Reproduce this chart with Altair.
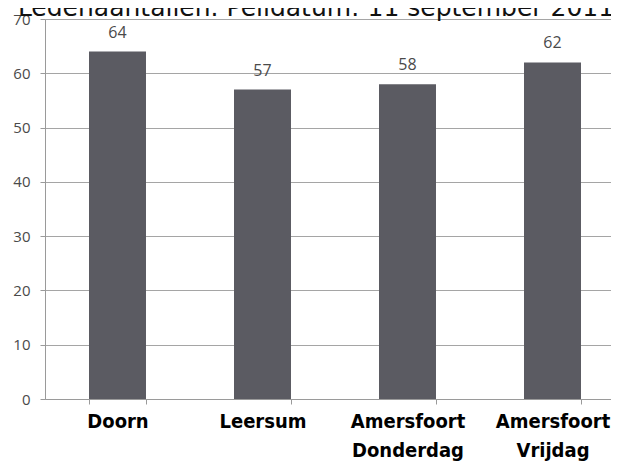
import altair as alt
import pandas as pd

categories = ["Doorn", "Leersum", "Amersfoort\nDonderdag", "Amersfoort\nVrijdag"]
values = [64, 57, 58, 62]
title_text = "Ledenaantallen. Peildatum: 11 september 2011"
y_ticks = [0, 10, 20, 30, 40, 50, 60, 70]

df = pd.DataFrame({"cat": categories, "val": values})

x_enc = alt.X(
    "cat:N",
    sort=categories,
    title=None,
    scale=alt.Scale(range=[0, 580], paddingInner=0.607, paddingOuter=0.3035),
    axis=alt.Axis(
        labelExpr="split(datum.label, '\\n')",
        labelAngle=0,
        labelFont="Liberation Sans Narrow, DejaVu Sans Condensed, Liberation Sans, sans-serif",
        labelFontWeight="bold",
        labelFontSize=20,
        labelColor="#000000",
        labelLineHeight=29,
        labelPadding=7,
        labelBaseline="top",
        tickSize=5,
        tickColor="#9a9a9a",
        domainColor="#9a9a9a",
        tickBand="extent",
        grid=False,
    ),
)

y_enc = alt.Y(
    "val:Q",
    title=None,
    scale=alt.Scale(domain=[0, 70], nice=False),
    axis=alt.Axis(
        values=y_ticks,
        labelFont="Open Sans",
        labelFontSize=15,
        labelColor="#4a4a4a",
        labelPadding=10,
        tickSize=5,
        tickColor="#9a9a9a",
        domainColor="#9a9a9a",
        gridColor="#a5a5a5",
        grid=True,
    ),
)

bars = alt.Chart(df).mark_bar(color="#5b5b62").encode(x=x_enc, y=y_enc)

labels = alt.Chart(df).mark_text(
    font="Open Sans", fontSize=16, color="#4a4a4a", baseline="alphabetic", dy=-14
).encode(x=alt.X("cat:N", sort=categories), y="val:Q", text="val:Q")

title_df = pd.DataFrame({"t": [title_text]})
title = alt.Chart(title_df).mark_text(
    font="DejaVu Sans", fontSize=25, color="#111111", baseline="alphabetic", align="center"
).encode(text="t:N", x=alt.value(271), y=alt.value(-3))

chart = (
    alt.layer(bars, labels, title)
    .properties(
        width=566,
        height=380,
        autosize=alt.AutoSizeParams(type="none"),
        padding={"left": 37, "top": 11, "right": 0, "bottom": 67},
    )
    .configure_view(stroke=None)
    .configure(background="white")
)

chart.save("out.html", embed_options={"renderer": "svg", "actions": False})
